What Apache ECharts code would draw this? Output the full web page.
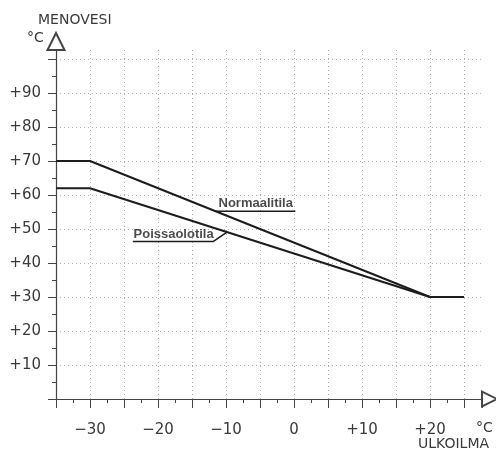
<!DOCTYPE html>
<html>
<head>
<meta charset="utf-8">
<script src="https://cdn.jsdelivr.net/npm/echarts@6/dist/echarts.min.js"></script>
<style>
  html, body { margin: 0; padding: 0; background: #fff; }
  #main { width: 496px; height: 452px; }
</style>
</head>
<body>
<div id="main"></div>
<script>
// ulkoilma (x) -> menovesi (y)
var normaalitila = [[-35, 70], [-30, 70], [20, 30], [25, 30]];
var poissaolotila = [[-35, 62], [-30, 62], [20, 30]];

// tekstien viivat
var normaaliViiva = [[-11.5, 55.2], [0.2, 55.2]];
var poissaViiva = [[-23.7, 46.3], [-11.9, 46.3], [-9.85, 49.1]];
var tekstit = [
  { name: 'Normaalitila', value: [-11.1, 55.2] },
  { name: 'Poissaolotila', value: [-23.6, 46.3] }
];

var xMin = -35, xMax = 27.65;
var yMin = 0, yMax = 102.65;

var chart = echarts.init(document.getElementById('main'), null, { renderer: 'canvas' });

var font = 'DejaVu Sans';
var lineCol = '#1c1c1c';
var gridCol = '#b0b0b0';

function xLabel(v) {
    if (Math.abs(v % 10) > 1e-6) return '';
    if (v === -35) return '';
    if (v > 0) return '+' + v;
    if (v < 0) return '\u2212' + (-v);
    return '0';
}
function yLabel(v) {
    if (v <= 0 || v >= 100 || v % 10 !== 0) return '';
    return '+' + v;
}

var option = {
    backgroundColor: '#ffffff',
    animation: false,
    grid: { left: 56, top: 50, right: 14, bottom: 53, containLabel: false },
    xAxis: {
        type: 'value',
        min: xMin,
        max: xMax,
        interval: 5,
        axisLine: {
            show: true,
            onZero: false,
            symbol: ['none', 'emptyTriangle'],
            symbolSize: [15, 15],
            symbolOffset: [0, 7.5],
            lineStyle: { color: '#444', width: 1.2 }
        },
        axisTick: { show: true, inside: false, length: 9, lineStyle: { color: '#444' } },
        minorTick: { show: true, splitNumber: 2, length: 4, lineStyle: { color: '#444' } },
        axisLabel: {
            formatter: xLabel,
            margin: 24,
            color: '#3a3a3a',
            fontFamily: font,
            fontSize: 15,
            showMaxLabel: false
        },
        splitLine: {
            show: true,
            showMinLine: false,
            showMaxLine: false,
            lineStyle: { color: gridCol, type: [1, 3], width: 1 }
        }
    },
    yAxis: {
        type: 'value',
        min: yMin,
        max: yMax,
        interval: 10,
        axisLine: {
            show: true,
            onZero: false,
            symbol: ['none', 'emptyTriangle'],
            symbolSize: [17, 17],
            symbolOffset: [0, 8.5],
            lineStyle: { color: '#444', width: 1.2 }
        },
        axisTick: { show: true, inside: false, length: 8, lineStyle: { color: '#444' } },
        minorTick: { show: true, splitNumber: 2, length: 4, lineStyle: { color: '#444' } },
        axisLabel: {
            formatter: yLabel,
            margin: 15,
            color: '#3a3a3a',
            fontFamily: font,
            fontSize: 15,
            showMaxLabel: false
        },
        splitLine: {
            show: true,
            showMinLine: false,
            showMaxLine: false,
            lineStyle: { color: gridCol, type: [1, 3], width: 1 }
        }
    },
    graphic: [
        { type: 'text', left: 38, top: 13, style: { text: 'MENOVESI', fill: '#3a3a3a', font: '14px "DejaVu Sans"' } },
        { type: 'text', left: 27, top: 31, style: { text: '\u00b0C', fill: '#3a3a3a', font: '14px "DejaVu Sans"' } },
        { type: 'text', left: 476, top: 421, style: { text: '\u00b0C', fill: '#3a3a3a', font: '14px "DejaVu Sans"' } },
        { type: 'text', left: 418, top: 437, style: { text: 'ULKOILMA', fill: '#3a3a3a', font: '14px "DejaVu Sans"' } }
    ],
    series: [
        {
            name: 'Normaalitila',
            type: 'line',
            data: normaalitila,
            symbol: 'none',
            lineStyle: { color: lineCol, width: 2 },
            z: 5
        },
        {
            name: 'Poissaolotila',
            type: 'line',
            data: poissaolotila,
            symbol: 'none',
            lineStyle: { color: lineCol, width: 2 },
            z: 5
        },
        {
            name: 'viiva1',
            type: 'line',
            data: normaaliViiva,
            symbol: 'none',
            lineStyle: { color: lineCol, width: 1.5 },
            z: 5
        },
        {
            name: 'viiva2',
            type: 'line',
            data: poissaViiva,
            symbol: 'none',
            lineStyle: { color: lineCol, width: 1.5 },
            z: 5
        },
        {
            name: 'tekstit',
            type: 'scatter',
            data: tekstit,
            symbolSize: 0,
            label: {
                show: true,
                formatter: '{b}',
                position: [0, 0],
                align: 'left',
                verticalAlign: 'bottom',
                offset: [0, -1],
                color: '#1c1c1c',
                fontFamily: 'Liberation Sans',
                fontWeight: 'bold',
                fontSize: 13
            },
            z: 6
        }
    ]
};

chart.setOption(option);
</script>
</body>
</html>
